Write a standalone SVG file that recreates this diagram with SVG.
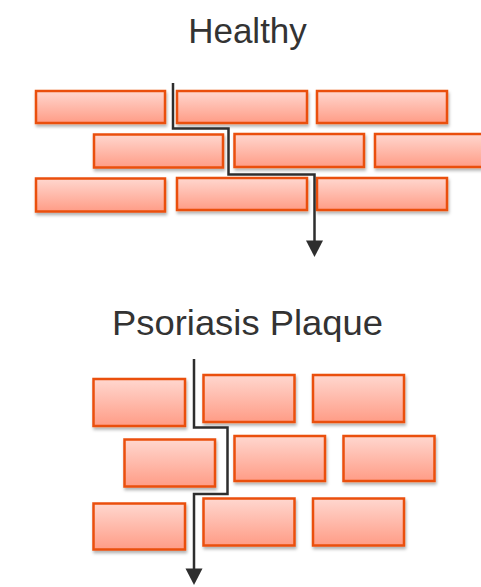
<svg xmlns="http://www.w3.org/2000/svg" width="481" height="587" viewBox="0 0 481 587">
<defs>
<linearGradient id="g" x1="0" y1="0" x2="0" y2="1">
<stop offset="0" stop-color="#ffd7cf"/>
<stop offset="1" stop-color="#ff9c86"/>
</linearGradient>
<filter id="sh" x="-10%" y="-10%" width="125%" height="140%">
<feDropShadow dx="1" dy="2.5" stdDeviation="1.8" flood-color="#000" flood-opacity="0.3"/>
</filter>
</defs>
<style>
.b{fill:url(#g);stroke:#ea4f0b;stroke-width:2.5;filter:url(#sh)}
.t{font-family:"Liberation Sans",Arial,sans-serif;font-size:35px;fill:#333;text-anchor:middle}
.c{fill:none;stroke:#2e2e2e;stroke-width:2.5}
.h{fill:#2e2e2e}
</style>
<text class="t" x="247.5" y="42.5">Healthy</text>
<text class="t" x="247.5" y="334.5" textLength="271" lengthAdjust="spacingAndGlyphs">Psoriasis Plaque</text>
<g id="healthy-bricks">
<rect id="h1" class="b" x="36" y="91" width="129" height="32"/>
<rect id="h2" class="b" x="177" y="91" width="130" height="32"/>
<rect id="h3" class="b" x="317" y="91" width="130" height="32"/>
<rect id="h4" class="b" x="94" y="134.5" width="129" height="33"/>
<rect id="h5" class="b" x="234.5" y="134" width="129.5" height="33"/>
<rect id="h6" class="b" x="375" y="134" width="110" height="33"/>
<rect id="h7" class="b" x="36" y="178.5" width="129" height="33"/>
<rect id="h8" class="b" x="177" y="178" width="130" height="32"/>
<rect id="h9" class="b" x="317" y="178" width="130" height="32"/>
</g>
<g id="plaque-bricks">
<rect id="p1" class="b" x="93.5" y="379" width="91.5" height="47"/>
<rect id="p2" class="b" x="203.5" y="375" width="91" height="47"/>
<rect id="p3" class="b" x="313" y="375" width="91" height="47"/>
<rect id="p4" class="b" x="124.5" y="439.5" width="90.5" height="47"/>
<rect id="p5" class="b" x="234.5" y="436" width="90.5" height="45"/>
<rect id="p6" class="b" x="343.5" y="436" width="91" height="45"/>
<rect id="p7" class="b" x="93.5" y="503.5" width="91.5" height="46"/>
<rect id="p8" class="b" x="203.5" y="498.5" width="91" height="47"/>
<rect id="p9" class="b" x="313" y="498.5" width="91" height="47"/>
</g>
<g id="connectors">
<path class="c" d="M173 83 V128.5 H228.5 V174.5 H314.5 V244"/>
<polygon class="h" points="306,240.5 323,240.5 314.5,257"/>
<path class="c" d="M194 359 V427.5 H227.5 V494 H194 V572"/>
<polygon class="h" points="185.5,568.5 202.5,568.5 194,585"/>
</g>
</svg>
